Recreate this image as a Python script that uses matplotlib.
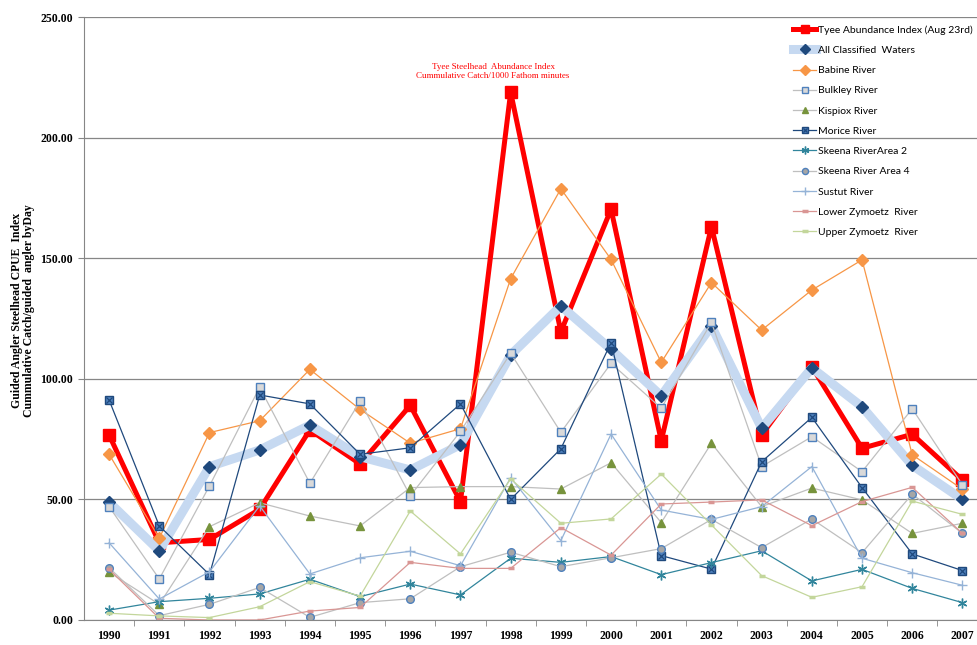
import numpy as np
import matplotlib
matplotlib.use("Agg")
import matplotlib.pyplot as plt
from matplotlib.legend_handler import HandlerTuple

years = [str(y) for y in range(1990, 2008)]

tyee = [76.7, 32.0, 33.4, 45.9, 78.8, 64.7, 89.0, 49.1, 218.8, 119.5,
        170.3, 74.3, 163.1, 76.7, 105.0, 71.2, 77.0, 58.0]
all_waters = [48.8, 28.7, 63.6, 70.5, 80.8, 67.7, 62.2, 72.7, 109.9, 130.2,
              112.2, 92.9, 121.9, 79.5, 104.5, 88.4, 64.1, 50.0]
babine = [68.7, 33.9, 77.7, 82.6, 103.9, 87.3, 73.3, 79.3, 141.5, 178.8,
          149.5, 106.8, 139.9, 120.2, 136.8, 149.3, 68.5, 54.2]
bulkley = [47.0, 17.0, 55.6, 96.5, 56.7, 90.7, 51.5, 78.2, 110.6, 77.8,
           106.4, 87.8, 123.4, 63.6, 76.0, 61.5, 87.6, 56.0]
kispiox = [19.8, 6.5, 38.7, 48.6, 43.1, 39.0, 54.9, 55.3, 55.3, 54.3,
           65.2, 40.4, 73.3, 47.0, 54.7, 49.8, 35.9, 40.1]
morice = [91.2, 39.0, 18.8, 93.3, 89.6, 68.7, 71.4, 89.6, 50.0, 71.0,
          115.0, 26.7, 21.1, 65.6, 84.0, 54.9, 27.4, 20.5]
skeena2 = [4.1, 7.6, 9.0, 10.8, 16.9, 9.7, 14.9, 10.4, 25.6, 23.9,
           26.3, 18.8, 23.8, 28.7, 16.2, 21.0, 13.1, 7.2]
skeena4 = [21.7, 1.8, 6.5, 13.5, 1.1, 7.2, 8.8, 22.1, 28.1, 22.1,
           25.8, 29.6, 41.7, 30.0, 41.9, 27.9, 52.2, 35.9]
sustut = [32.0, 8.7, 20.0, 47.3, 19.1, 25.8, 28.5, 22.5, 59.0, 32.9,
          77.1, 45.6, 41.7, 47.0, 63.6, 25.6, 19.6, 14.4]
lower_zym = [21.0, 0.7, 0.0, 0.0, 3.7, 5.2, 23.9, 21.4, 21.4, 38.3,
             26.9, 48.1, 48.9, 49.8, 39.1, 49.1, 55.0, 35.9]
upper_zym = [2.8, 1.7, 1.0, 5.5, 15.9, 9.9, 45.2, 27.4, 58.5, 40.1,
             41.9, 60.5, 39.4, 18.4, 9.4, 13.8, 49.3, 43.8]

x = np.arange(len(years))

fig = plt.figure(figsize=(9.78, 6.45), dpi=100)
ax = fig.add_axes([84 / 978, 25 / 645, 894 / 978, 603 / 645])

serif = "Liberation Serif"
sans = "Lato"

h_tyee, = ax.plot(x, tyee, color="#FF0000", lw=3.6, marker="s", ms=8,
                  mfc="#FF0000", mec="#FF0000")
h_all, = ax.plot(x, all_waters, color="#C6D9F1", lw=6.5, marker="D", ms=6,
                 mfc="#1F497D", mec="#1F497D")
h_bab, = ax.plot(x, babine, color="#F79646", lw=0.9, marker="D", ms=6,
                 mfc="#F79646", mec="#F79646")
h_bul, = ax.plot(x, bulkley, color="#BFBFBF", lw=0.9, marker="s", ms=5.5,
                 mfc="#D9D9D9", mec="#4F81BD", mew=1)
h_kis, = ax.plot(x, kispiox, color="#BFBFBF", lw=0.9, marker="^", ms=6,
                 mfc="#77933C", mec="#77933C")
h_mor, = ax.plot(x, morice, color="#1F497D", lw=0.9, marker="s", ms=5.5,
                 mfc="#4F81BD", mec="#1F497D", mew=1)
h_mor_x, = ax.plot(x, morice, ls="none", marker="x", ms=4, mec="#1F497D", mew=0.9)
h_sk2, = ax.plot(x, skeena2, color="#31859C", lw=0.9, marker=(6, 2, 0), ms=7,
                 mec="#31859C", mew=1)
h_sk4, = ax.plot(x, skeena4, color="#BFBFBF", lw=0.9, marker="o", ms=5.5,
                 mfc="#A6A6A6", mec="#4F81BD", mew=1)
h_sus, = ax.plot(x, sustut, color="#95B3D7", lw=0.9, marker="+", ms=7,
                 mec="#95B3D7", mew=1)
h_low, = ax.plot(x, lower_zym, color="#D99694", lw=0.9, marker="_", ms=5,
                 mec="#D99694", mew=2.5)
h_up, = ax.plot(x, upper_zym, color="#C3D69B", lw=0.9, marker="_", ms=5,
                mec="#C3D69B", mew=2.5)

ax.set_xlim(-0.5, 17.31)
ax.set_ylim(0, 250)
ax.set_yticks(np.arange(0, 251, 50))
ax.set_yticklabels([f"{v:.2f}" for v in np.arange(0, 251, 50)],
                   fontfamily=serif, fontweight="bold", fontsize=8.5)
ax.set_xticks(x)
ax.set_xticklabels(years, fontfamily=serif, fontweight="bold", fontsize=8.5)
ax.set_xticks(np.arange(0.5, 17, 1), minor=True)
ax.tick_params(axis="x", which="major", length=0, pad=7)
ax.tick_params(axis="x", which="minor", length=4, color="#868686", direction="out")
ax.tick_params(axis="y", length=4, color="#868686", pad=4)
ax.grid(axis="y", color="#868686", lw=0.9)
ax.set_axisbelow(True)
for s in ["top", "right"]:
    ax.spines[s].set_visible(False)
for s in ["left", "bottom"]:
    ax.spines[s].set_color("#868686")

fig.text(23 / 978, 0.518,
         "Guided Angler Steelhead CPUE  Index\nCummulative Catch/guided  angler byDay",
         rotation=90, ha="center", va="center", multialignment="center",
         fontfamily=serif, fontweight="bold", fontsize=8.5, linespacing=1.1)

ax.text(8.0 - 0.35, 224, "Tyee Steelhead  Abundance Index\nCummulative Catch/1000 Fathom minutes",
        ha="center", va="bottom", color="#FF0000", fontfamily=serif, fontsize=6.5,
        linespacing=1.1)

handles = [h_tyee, h_all, h_bab, h_bul, h_kis, (h_mor, h_mor_x), h_sk2, h_sk4,
           h_sus, h_low, h_up]
labels = ["Tyee Abundance Index (Aug 23rd)", "All Classified  Waters", "Babine River",
          "Bulkley River", "Kispiox River", "Morice River", "Skeena RiverArea 2",
          "Skeena River Area 4", "Sustut River", "Lower Zymoetz  River",
          "Upper Zymoetz  River"]
fig.legend(handles, labels, loc="upper left", bbox_to_anchor=(788 / 978, 1 - 20 / 645),
           frameon=False, prop={"family": sans, "size": 7.5}, labelspacing=1.05,
           handlelength=2.2, handletextpad=0.2, borderpad=0, markerscale=0.8,
           handler_map={tuple: HandlerTuple(ndivide=1)})

fig.savefig("out.png", dpi=100)
